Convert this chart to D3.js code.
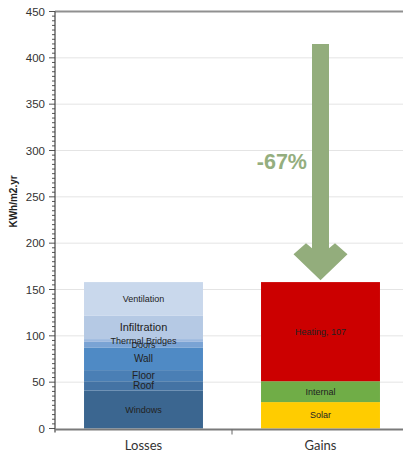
<!DOCTYPE html>
<html>
<head>
<meta charset="utf-8">
<script src="https://cdn.jsdelivr.net/npm/d3@7"></script>
<style>
  html, body { margin: 0; padding: 0; background: #fff; }
  svg { display: block; }
</style>
</head>
<body>
<svg id="chart" width="403" height="455"></svg>
<script>
// Annual energy balance, kWh/m2.yr
const categories = ["Losses", "Gains"];
const lossLabels = ["Windows", "Roof", "Floor", "Wall", "Doors", "Thermal Bridges", "Infiltration", "Ventilation"];
const lossValues = [41, 10, 12, 24.5, 6, 3, 25.5, 36];
const gainLabels = ["Solar", "Internal", "Heating, 107"];
const gainValues = [28.5, 22.5, 107];
const yTicks = [0, 50, 100, 150, 200, 250, 300, 350, 400, 450];
const yLabel = "KWh/m2.yr";
const arrowFrom = 415;   // start of the reduction arrow
const arrowTo = 160;     // arrow tip
const reductionText = "-67%";

(function () {
const lossColors = ["#3b6690", "#4473a4", "#4a7fb5", "#4f8ac5", "#7aa3d4", "#9db9df", "#b5c9e4", "#c9d8ec"];
const gainColors = ["#ffcc00", "#70ad47", "#cc0000"];
const lossFont = [9, 10, 10, 10, 9, 9, 11, 9];

const svg = d3.select("#chart");
const W = 403;
const x0 = 55, x1 = 409, yTop = 11.5, yBot = 428.5;

const y = d3.scaleLinear().domain([0, 450]).range([yBot, yTop]);
const x = d3.scaleBand().domain(categories).range([x0, x1]).paddingInner(0.328).paddingOuter(0.164);

// gridlines
svg.append("g").selectAll("line")
  .data(yTicks.filter(t => t > 0 && t < 450))
  .join("line")
  .attr("x1", x0).attr("x2", W)
  .attr("y1", d => y(d)).attr("y2", d => y(d))
  .attr("stroke", "#e4e4e4").attr("stroke-width", 1);

// top frame line
svg.append("line")
  .attr("x1", x0).attr("x2", W).attr("y1", y(450)).attr("y2", y(450))
  .attr("stroke", "#909090").attr("stroke-width", 2);

// stacked segments
function stackSegments(values) {
  const tops = d3.cumsum(values);
  return values.map((v, i) => ({ v, lo: tops[i] - v, hi: tops[i] }));
}
const losses = stackSegments(lossValues);
const gains = stackSegments(gainValues);

function drawBar(cat, segs, colors, labels, fonts) {
  const g = svg.append("g");
  g.selectAll("rect").data(segs).join("rect")
    .attr("x", x(cat)).attr("width", x.bandwidth())
    .attr("y", d => y(d.hi)).attr("height", d => y(d.lo) - y(d.hi))
    .attr("fill", (d, i) => colors[i]);
  g.selectAll("text").data(segs).join("text")
    .attr("x", x(cat) + x.bandwidth() / 2)
    .attr("y", d => (y(d.lo) + y(d.hi)) / 2)
    .attr("dy", "0.35em")
    .attr("text-anchor", "middle")
    .attr("font-family", "Liberation Sans, Arial, sans-serif")
    .attr("font-size", (d, i) => fonts ? fonts[i] : 9)
    .attr("fill", "#222")
    .text((d, i) => labels[i]);
}
drawBar("Losses", losses, lossColors, lossLabels, lossFont);
drawBar("Gains", gains, gainColors, gainLabels, null);

// y axis with minor ticks every 5 units
const minor = d3.range(0, 451, 5);
svg.append("g").selectAll("line").data(minor).join("line")
  .attr("x1", d => d % 50 === 0 ? x0 - 6 : x0 - 3).attr("x2", x0)
  .attr("y1", d => y(d)).attr("y2", d => y(d))
  .attr("stroke", "#555").attr("stroke-width", 1);
svg.append("line")
  .attr("x1", x0).attr("x2", x0).attr("y1", y(450)).attr("y2", yBot + 4)
  .attr("stroke", "#444").attr("stroke-width", 1.2);
svg.append("g").selectAll("text").data(yTicks).join("text")
  .attr("x", x0 - 10).attr("y", d => y(d)).attr("dy", "0.35em")
  .attr("text-anchor", "end")
  .attr("font-family", "Liberation Sans, Arial, sans-serif")
  .attr("font-size", 11.5).attr("fill", "#333")
  .text(d => d);

svg.append("text")
  .attr("transform", `translate(17,${y(245)}) rotate(-90)`)
  .attr("text-anchor", "middle")
  .attr("font-family", "Liberation Sans, Arial, sans-serif")
  .attr("font-size", 10).attr("font-weight", "bold").attr("fill", "#222")
  .text(yLabel);

// x axis
svg.append("line")
  .attr("x1", x0).attr("x2", W).attr("y1", yBot + 1).attr("y2", yBot + 1)
  .attr("stroke", "#7a7a7a").attr("stroke-width", 2);
svg.append("line")
  .attr("x1", x0 + x.step()).attr("x2", x0 + x.step())
  .attr("y1", yBot + 1).attr("y2", yBot + 6)
  .attr("stroke", "#666").attr("stroke-width", 1);
svg.append("g").selectAll("text").data(categories).join("text")
  .attr("x", d => x(d) + x.bandwidth() / 2).attr("y", 450)
  .attr("text-anchor", "middle")
  .attr("font-family", "Lato, DejaVu Sans, sans-serif")
  .attr("font-size", 13).attr("fill", "#333")
  .text(d => d);

// reduction arrow over the gains bar
const cx = x("Gains") + x.bandwidth() / 2;
const yStart = y(arrowFrom), yTip = y(arrowTo);
const pts = [
  [cx - 8.5, yStart], [cx + 8.5, yStart], [cx + 8.5, yTip - 32], [cx + 14.5, yTip - 37],
  [cx + 27, yTip - 26], [cx, yTip], [cx - 27, yTip - 26], [cx - 14.5, yTip - 37],
  [cx - 8.5, yTip - 32]
];
svg.append("polygon")
  .attr("points", pts.map(p => p.join(",")).join(" "))
  .attr("fill", "#93ad7c");

svg.append("text")
  .attr("x", cx - 13.5).attr("y", y(280) + 0.3)
  .attr("text-anchor", "end")
  .attr("font-family", "Liberation Sans, Arial, sans-serif")
  .attr("font-size", 21.5).attr("font-weight", "bold").attr("fill", "#94ae7e")
  .text(reductionText);
})();
</script>
</body>
</html>
